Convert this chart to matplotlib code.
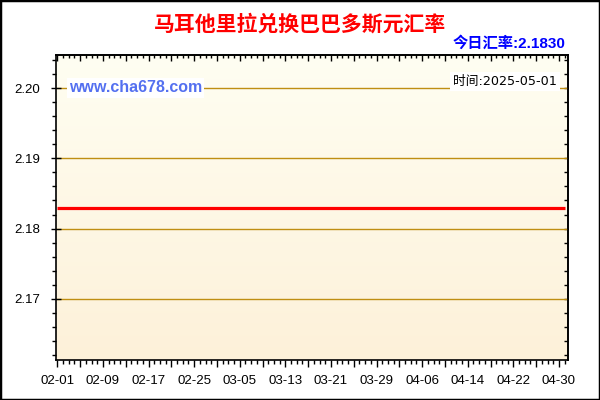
import numpy as np
import pandas as pd
import matplotlib
matplotlib.use('Agg')
import matplotlib.pyplot as plt
import matplotlib.dates as mdates
from matplotlib.ticker import FixedLocator, FixedFormatter, MultipleLocator
from matplotlib.patches import Rectangle

# ---- data ----
dates = ['2025-02-01', '2025-05-01']
rates = [2.183, 2.183]
y_ticks = [2.17, 2.18, 2.19, 2.20]
x_tick_dates = ['2025-02-01', '2025-02-09', '2025-02-17', '2025-02-25', '2025-03-05',
                '2025-03-13', '2025-03-21', '2025-03-29', '2025-04-06', '2025-04-14',
                '2025-04-22', '2025-04-30']
title = '马耳他里拉兑换巴巴多斯元汇率'
today_rate = '2.1830'
update_time = '2025-05-01'
site = 'www.cha678.com'

plt.rcParams['font.family'] = ['Liberation Sans', 'Noto Sans CJK SC']

x = mdates.date2num(pd.to_datetime(dates))
x0 = x[0]
label_x = mdates.date2num(pd.to_datetime(x_tick_dates))

fig = plt.figure(figsize=(6, 4), dpi=100)
ax = fig.add_axes([56 / 600, 40 / 400, 512 / 600, 305 / 400])

xmin, xmax = x0 - 0.23, x0 + 89.58
ymin, ymax = 2.1613, 2.2047

# background gradient
grad = np.linspace(0, 1, 256).reshape(-1, 1)
top_c = np.array([255, 254, 242]) / 255
bot_c = np.array([253, 241, 217]) / 255
img = top_c[None, None, :] * (1 - grad[..., None]) + bot_c[None, None, :] * grad[..., None]
ax.imshow(img, extent=[xmin, xmax, ymin, ymax], aspect='auto', origin='upper', zorder=0)

for yt in y_ticks:
    ax.axhline(yt, color='#BF8E12', lw=1, zorder=1)

ax.plot(x, rates, color='#FF0000', lw=2.3, zorder=3, solid_capstyle='butt')

ax.set_xlim(xmin, xmax)
ax.set_ylim(ymin, ymax)

# x ticks: major every 4 days, labels every 8 days, minor every day
major_x = [x0 + 4 * i for i in range(23)]
minor_x = [x0 + i for i in range(90)]
major_lbl = []
for mx in major_x:
    hit = [pd.Timestamp(mdates.num2date(lx)).strftime('%m-%d') for lx in label_x if abs(lx - mx) < 0.01]
    major_lbl.append(hit[0] if hit else '')
ax.xaxis.set_major_locator(FixedLocator(major_x))
ax.xaxis.set_major_formatter(FixedFormatter(major_lbl))
ax.xaxis.set_minor_locator(FixedLocator(minor_x))
ax.yaxis.set_major_locator(FixedLocator(y_ticks))
ax.yaxis.set_major_formatter(FixedFormatter([f'{v:.2f}' for v in y_ticks]))
ax.yaxis.set_minor_locator(MultipleLocator(0.002))

ax.tick_params(axis='x', which='major', direction='out', length=5, width=1, pad=6,
               labelsize=9.5)
ax.tick_params(axis='x', which='minor', direction='out', length=3, width=1)
ax.tick_params(axis='y', which='major', direction='inout', length=7, width=1, pad=8,
               labelsize=9.5)
ax.tick_params(axis='y', which='minor', direction='out', length=3, width=1)

# inward ticks on top and right
top = ax.secondary_xaxis('top')
top.xaxis.set_major_locator(FixedLocator(major_x))
top.xaxis.set_minor_locator(FixedLocator(minor_x))
top.tick_params(which='major', direction='in', length=4, width=1, labeltop=False)
top.tick_params(which='minor', direction='in', length=2.5, width=1)
right = ax.secondary_yaxis('right')
right.yaxis.set_major_locator(FixedLocator(y_ticks))
right.yaxis.set_minor_locator(MultipleLocator(0.002))
right.tick_params(which='major', direction='in', length=3, width=1, labelright=False)
right.tick_params(which='minor', direction='in', length=3, width=1)

for a in (ax, top, right):
    for sp in a.spines.values():
        sp.set_linewidth(1.2)
        sp.set_zorder(4)

# watermark + time stamp
ax.text(0.025, 0.892, site, transform=ax.transAxes, color='#5470F0', fontsize=11.5,
        fontweight='bold', va='center', ha='left', zorder=5,
        bbox=dict(facecolor='white', edgecolor='none', pad=1.5))
ax.text(0.9785, 0.913, '时间:' + update_time, transform=ax.transAxes, color='black',
        fontsize=9.2, va='center', ha='right', zorder=5,
        family=['DejaVu Sans', 'Noto Sans CJK SC'],
        bbox=dict(facecolor='white', edgecolor='none', pad=2.5))

fig.text(0.5, 0.94, title, color='#FF0000', fontsize=15, fontweight='bold',
         ha='center', va='center', family=['Noto Sans CJK SC'])
fig.text(565 / 600, 1 - 43 / 400, '今日汇率:' + today_rate, color='#0000FF', fontsize=11,
         fontweight='bold', ha='right', va='center', family=['Liberation Sans', 'Noto Sans CJK SC'])

fig.patches.append(Rectangle((0, 0), 1, 1, transform=fig.transFigure, fill=False,
                             edgecolor='black', lw=2.5, zorder=10))

fig.savefig('out.png', dpi=100)
